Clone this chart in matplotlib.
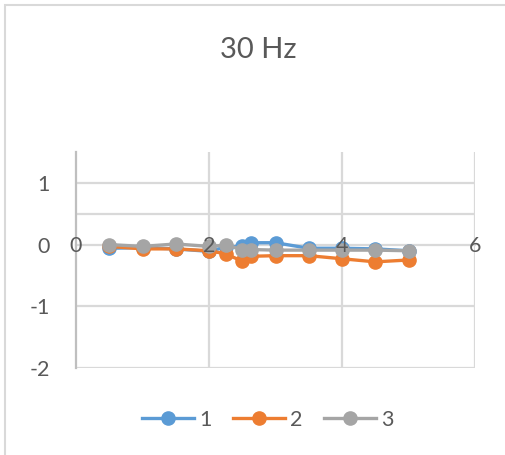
import numpy as np
import matplotlib
matplotlib.use("Agg")
import matplotlib.pyplot as plt
from matplotlib.patches import Rectangle
from matplotlib.lines import Line2D

# valores
titulo = "30 Hz"
x = [0.5, 1, 1.5, 2, 2.25, 2.5, 2.625, 3, 3.5, 4, 4.5, 5]
serie1 = [-0.06, -0.05, -0.07, -0.11, -0.04, -0.03, 0.03, 0.03, -0.06, -0.06, -0.07, -0.10]
serie2 = [-0.03, -0.07, -0.07, -0.10, -0.15, -0.27, -0.19, -0.18, -0.18, -0.23, -0.28, -0.25]
serie3 = [0.00, -0.03, 0.01, -0.03, -0.01, -0.08, -0.08, -0.09, -0.09, -0.09, -0.09, -0.10]
nomes = ["1", "2", "3"]
xticks = [0, 2, 4, 6]
yticks = [-2, -1, 0, 1]
linhas_grade_y = [-1, 0.5, 1]

cores = ["#5b9bd5", "#ed7d31", "#a5a5a5"]
cinza_txt = "#595959"
cinza_grade = "#d9d9d9"

plt.rcParams['font.family'] = ['Lato', 'DejaVu Sans']

fig = plt.figure(figsize=(5.05, 4.55), dpi=100)
# borda do grafico
fig.patches.append(Rectangle((5/505, -0.1), 1.2, 1 - 5/455 + 0.1, transform=fig.transFigure,
                             fill=False, edgecolor="#d9d9d9", lw=1.5))

ax = fig.add_axes([76/505, 1 - 368/455, (475 - 76)/505, (368 - 152)/455])
ax.set_xlim(0, 6)
ax.set_ylim(-2, 1.5)

for yv in linhas_grade_y:
    ax.axhline(yv, color=cinza_grade, lw=1.6, zorder=0)
for xv in xticks[1:]:
    ax.axvline(xv, color=cinza_grade, lw=1.6, zorder=0)

for s in ["top", "right"]:
    ax.spines[s].set_visible(False)
ax.spines["left"].set_color("#bfbfbf")
ax.spines["left"].set_linewidth(1.6)
ax.spines["bottom"].set_position(("data", 0))
ax.spines["bottom"].set_color(cinza_grade)
ax.spines["bottom"].set_linewidth(1.6)
ax.spines["bottom"].set_zorder(0)
ax.axhline(-2, color=cinza_grade, lw=1.6, zorder=0)

ax.set_xticks(xticks)
ax.set_xticklabels([str(v) for v in xticks])
ax.set_yticks(yticks)
ax.set_yticklabels([str(v) for v in yticks])
ax.tick_params(axis="x", length=0, pad=-6.5, labelsize=15.5, labelcolor=cinza_txt)
ax.tick_params(axis="y", length=0, pad=19, labelsize=15.5, labelcolor=cinza_txt)
ax.xaxis.set_zorder(5)

for ys, cor, nome in zip([serie1, serie2, serie3], cores, nomes):
    ax.plot(x, ys, color=cor, lw=2.4, marker="o", markersize=9.5, label=nome,
            zorder=3, clip_on=False)

fig.text(258/505, 1 - 50/455, titulo, ha="center", va="center", fontsize=21, color=cinza_txt)

handles = [Line2D([], [], color=c, lw=2.4, marker="o", markersize=9.5) for c in cores]
fig.legend(handles, nomes, loc="center", bbox_to_anchor=(268/505, 1 - 420/455), ncol=3,
           frameon=False, fontsize=15.5, labelcolor=cinza_txt, handlelength=2.4,
           handletextpad=0.25, columnspacing=1.0)

fig.savefig("out.png", dpi=100)
